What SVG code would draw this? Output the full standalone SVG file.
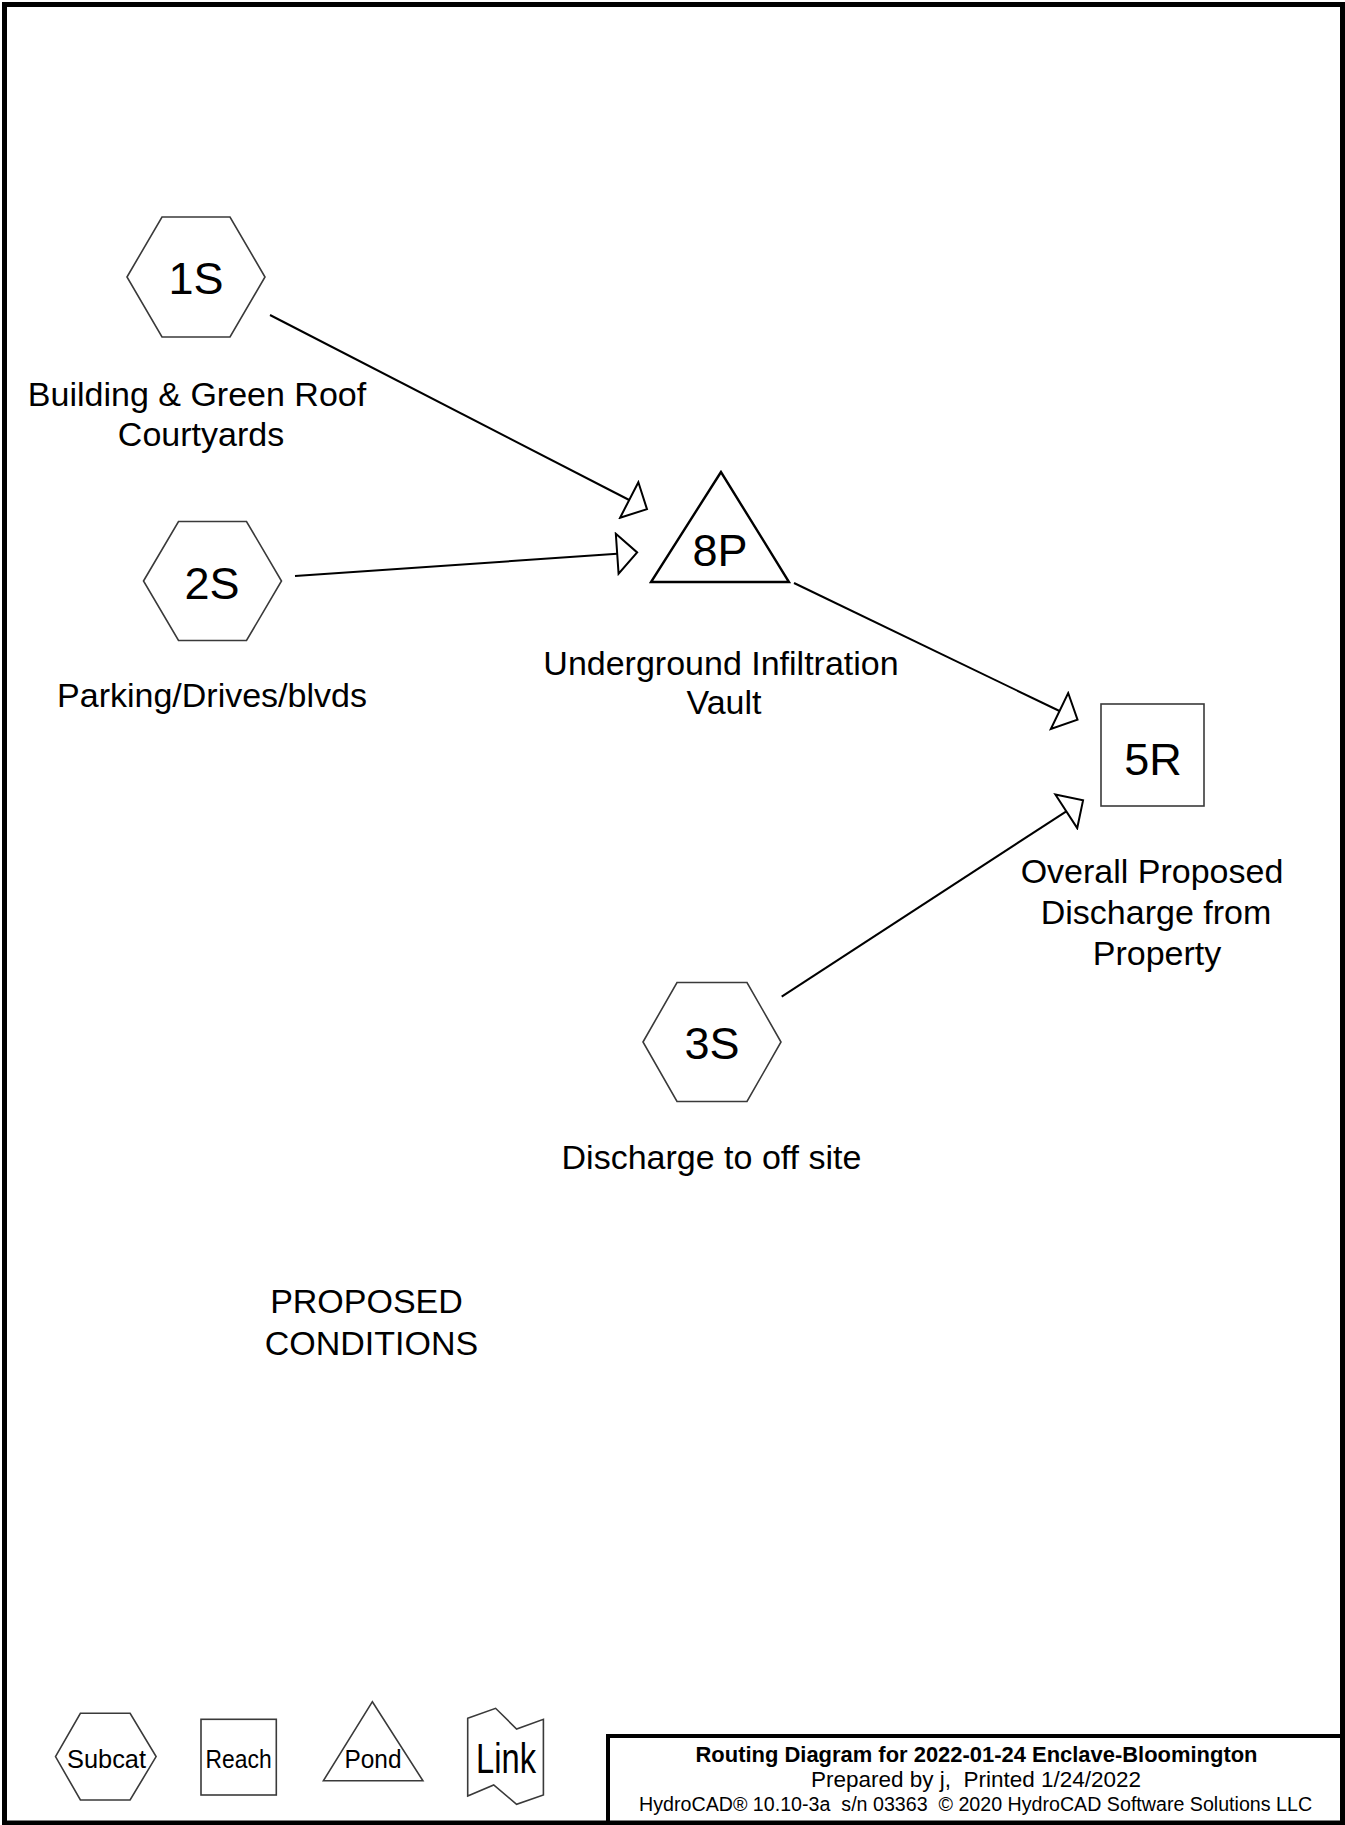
<svg xmlns="http://www.w3.org/2000/svg" width="1345" height="1825" viewBox="0 0 1345 1825">
  <style>
    .shape { fill: #ffffff; stroke: #3a3a3a; stroke-width: 1.6; stroke-linejoin: miter; }
    .pond { fill: #ffffff; stroke: #000000; stroke-width: 2.4; stroke-linejoin: miter; }
    .id { font-family: "Liberation Sans", Arial, sans-serif; font-size: 45px; fill: #000; text-anchor: middle; }
    .lbl { font-family: "Liberation Sans", Arial, sans-serif; font-size: 34px; fill: #000; text-anchor: middle; }
    .leg { font-family: "Liberation Sans", Arial, sans-serif; font-size: 25px; fill: #000; text-anchor: middle; }
    .conn { fill: none; stroke: #000000; stroke-width: 2; marker-end: url(#arrow); }
    .title { font-family: "Liberation Sans", Arial, sans-serif; fill: #000; text-anchor: middle; }
  </style>
  <defs>
    <marker id="arrow" viewBox="-2 -22 24 44" markerWidth="24" markerHeight="44" refX="0" refY="0" orient="auto" markerUnits="userSpaceOnUse">
      <path d="M0,-20 L20,0 L0,20 Z" fill="#ffffff" stroke="#000000" stroke-width="2"/>
    </marker>
  </defs>

  <rect x="0" y="0" width="1345" height="1825" fill="#ffffff"/>
  <rect x="4.5" y="4.5" width="1338" height="1818.5" fill="none" stroke="#000000" stroke-width="5"/>

  <g id="connectors">
    <line class="conn" x1="270" y1="315" x2="629.2" y2="500"/>
    <line class="conn" x1="295" y1="576" x2="617.2" y2="553.8"/>
    <line class="conn" x1="794" y1="583" x2="1059.5" y2="711"/>
    <line class="conn" x1="781.7" y1="996.7" x2="1066.3" y2="811.3"/>
  </g>

  <g id="node-1S">
    <polygon class="shape" points="127,277 162,217 230,217 265,277 230,337 162,337"/>
    <text class="id" x="196" y="294">1S</text>
    <text class="lbl" x="197" y="406">Building &amp; Green Roof</text>
    <text class="lbl" x="201" y="446">Courtyards</text>
  </g>

  <g id="node-2S">
    <polygon class="shape" points="143.5,581 178.5,521.5 246.5,521.5 281.5,581 246.5,640.5 178.5,640.5"/>
    <text class="id" x="212" y="599">2S</text>
    <text class="lbl" x="212" y="707">Parking/Drives/blvds</text>
  </g>

  <g id="node-8P">
    <polygon class="pond" points="721,472 651,582 789,582"/>
    <text class="id" x="720" y="566">8P</text>
    <text class="lbl" x="721" y="675">Underground Infiltration</text>
    <text class="lbl" x="724" y="714">Vault</text>
  </g>

  <g id="node-5R">
    <rect class="shape" x="1101" y="704" width="103" height="102"/>
    <text class="id" x="1153" y="775">5R</text>
    <text class="lbl" x="1152" y="883">Overall Proposed</text>
    <text class="lbl" x="1156" y="924">Discharge from</text>
    <text class="lbl" x="1157" y="965">Property</text>
  </g>

  <g id="node-3S">
    <polygon class="shape" points="643,1042 677,982.5 747,982.5 781,1042 747,1101.5 677,1101.5"/>
    <text class="id" x="712" y="1059">3S</text>
    <text class="lbl" x="711.5" y="1169">Discharge to off site</text>
  </g>

  <g id="note">
    <text class="lbl" x="366.5" y="1313">PROPOSED</text>
    <text class="lbl" x="371.5" y="1355">CONDITIONS</text>
  </g>

  <g id="legend">
    <polygon class="shape" stroke-width="1.2" points="55.5,1756.6 80.4,1713.3 130.1,1713.3 156.1,1756.6 130.1,1800 80.4,1800"/>
    <text class="leg" x="106.5" y="1768" style="font-size:26px" textLength="79" lengthAdjust="spacingAndGlyphs">Subcat</text>
    <rect class="shape" stroke-width="1.2" x="201" y="1719.3" width="75.3" height="75.7"/>
    <text class="leg" x="238.6" y="1768" textLength="66" lengthAdjust="spacingAndGlyphs">Reach</text>
    <polygon class="shape" stroke-width="1.2" points="372.4,1701.7 323.4,1780.7 422.9,1780.7"/>
    <text class="leg" x="373" y="1768" textLength="57" lengthAdjust="spacingAndGlyphs">Pond</text>
    <polygon class="shape" stroke-width="1.2" points="467.7,1718.3 495.6,1708.3 516.6,1729 543.4,1719.3 543.4,1795 516.6,1804.3 493.7,1785 467.7,1796"/>
    <text class="leg" x="506" y="1773" style="font-size:42px" textLength="60" lengthAdjust="spacingAndGlyphs">Link</text>
  </g>

  <g id="title-block">
    <polyline points="608,1825 608,1736 1345,1736" fill="none" stroke="#000000" stroke-width="4"/>
    <text class="title" x="976.5" y="1761.5" font-size="22" font-weight="bold" textLength="562" lengthAdjust="spacingAndGlyphs">Routing Diagram for 2022-01-24 Enclave-Bloomington</text>
    <text class="title" x="976" y="1786.5" font-size="22" textLength="330" lengthAdjust="spacingAndGlyphs" xml:space="preserve">Prepared by j,  Printed 1/24/2022</text>
    <text class="title" x="975.6" y="1810.5" font-size="20" textLength="673" lengthAdjust="spacingAndGlyphs" xml:space="preserve">HydroCAD® 10.10-3a  s/n 03363  © 2020 HydroCAD Software Solutions LLC</text>
  </g>
</svg>
